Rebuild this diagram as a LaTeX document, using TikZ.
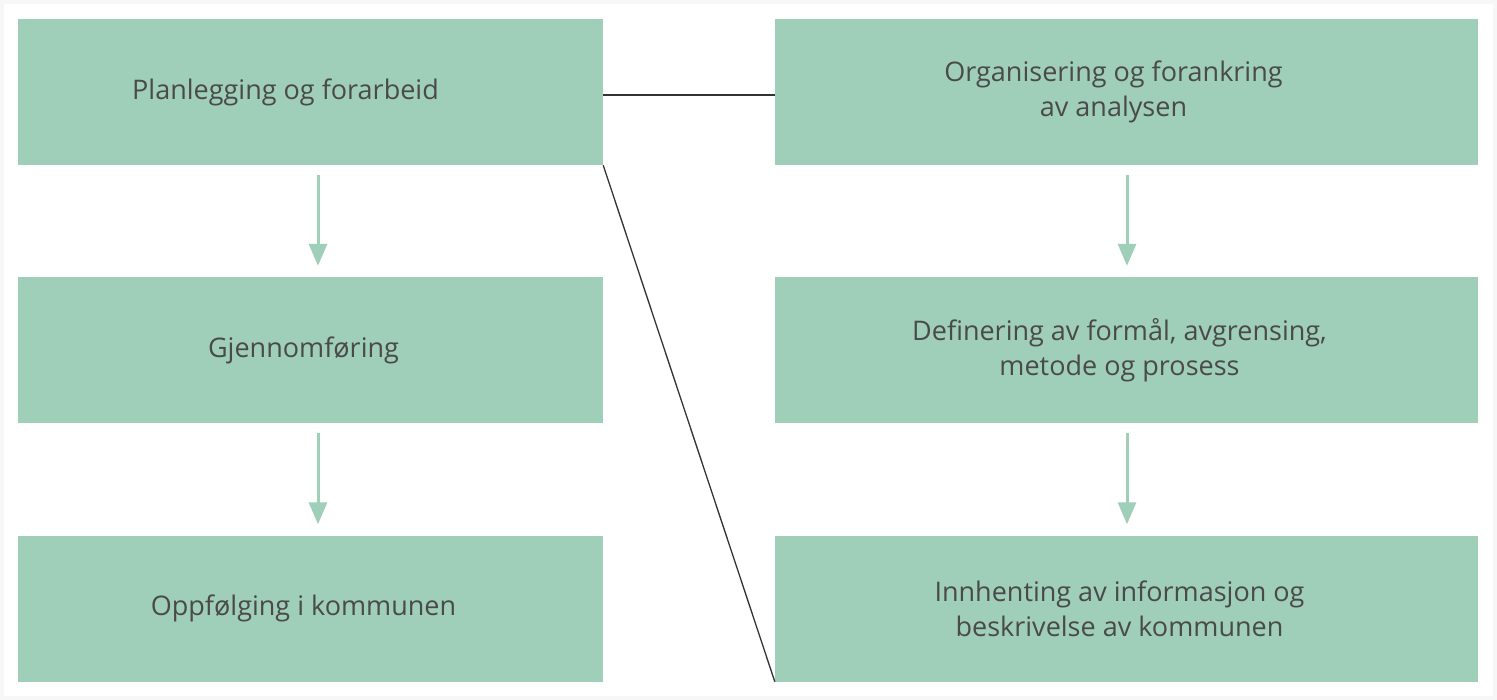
\documentclass[tikz,border=0pt]{standalone}
\usepackage{fontspec}
\setmainfont{Open Sans}
\usetikzlibrary{arrows.meta}
\definecolor{boxgreen}{HTML}{9FCFB8}
\definecolor{txtgray}{HTML}{4A4A4A}
\definecolor{linegray}{HTML}{333333}
\tikzset{
  stepbox/.style={fill=boxgreen, draw=none, inner sep=0pt, align=center,
    text=txtgray, font=\fontsize{27}{35}\selectfont},
  leftbox/.style={stepbox, minimum width=585pt, minimum height=146pt},
  rightbox/.style={stepbox, minimum width=703pt, minimum height=146pt},
  flow/.style={draw=boxgreen, line width=3pt, -{Triangle[length=22pt,width=18pt]}},
  link/.style={draw=linegray, line width=1.3pt}
}
\begin{document}
\begin{tikzpicture}[x=1pt,y=-1pt]
\useasboundingbox (0,0) rectangle (1497,700);
\fill[white] (0,0) rectangle (1497,700);
\draw[black!3, line width=4pt] (2,2) rectangle (1495,698);
\node[leftbox] (a1) at (310.5,92) {Planlegging og forarbeid\hspace*{50pt}};
\node[leftbox] (a2) at (310.5,350) {Gjennomføring\hspace*{14pt}};
\node[leftbox] (a3) at (310.5,608.5) {Oppfølging i kommunen\hspace*{14pt}};
\node[rightbox] (b1) at (1126.5,92) {Organisering og forankring\hspace*{26pt}\\av analysen\hspace*{26pt}};
\node[rightbox] (b2) at (1126.5,350) {Definering av formål, avgrensing,\hspace*{14pt}\\metode og prosess\hspace*{14pt}};
\node[rightbox] (b3) at (1126.5,608.5) {Innhenting av informasjon og\hspace*{14pt}\\beskrivelse av kommunen\hspace*{14pt}};
\draw[flow] ([yshift=-10pt]a1.south -| 318,0) -- ([yshift=11pt]a2.north -| 318,0);
\draw[flow] ([yshift=-10pt]a2.south -| 318,0) -- ([yshift=11pt]a3.north -| 318,0);
\draw[flow] ([yshift=-10pt]b1.south -| 1127,0) -- ([yshift=11pt]b2.north -| 1127,0);
\draw[flow] ([yshift=-10pt]b2.south -| 1127,0) -- ([yshift=11pt]b3.north -| 1127,0);
\draw[link] ([yshift=-3pt]a1.east) -- ([yshift=-3pt]b1.west);
\draw[link] (a1.south east) -- (b3.south west);
\end{tikzpicture}
\end{document}
